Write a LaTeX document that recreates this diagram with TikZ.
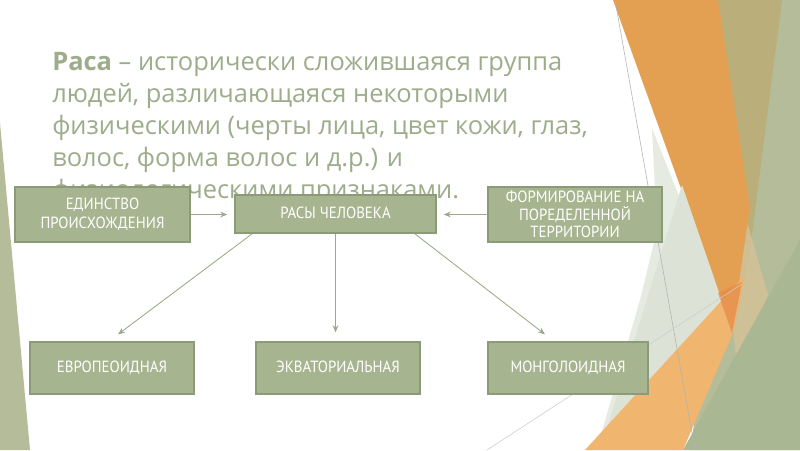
\documentclass[tikz,border=0pt]{standalone}
\usepackage{fontspec}
\setmainfont{Open Sans}
\newfontfamily\boxfont[FakeStretch=0.92]{PT Sans}
\usetikzlibrary{arrows.meta,positioning,calc}
\definecolor{sage}{HTML}{9DAC8A}
\definecolor{boxg}{HTML}{A6B58F}
\definecolor{boxd}{HTML}{8B9B77}
\definecolor{arrg}{HTML}{9AAA88}
\definecolor{orng}{HTML}{E3A052}
\definecolor{orngl}{HTML}{F0B56F}
\definecolor{tanb}{HTML}{BAAE7B}
\definecolor{beige}{HTML}{D5C397}
\definecolor{greenl}{HTML}{B4BC99}
\definecolor{greend}{HTML}{A9B792}
\definecolor{palegr}{HTML}{E6EBE2}
\definecolor{palegrd}{HTML}{DCE3D6}
\tikzset{
  racebox/.style={draw=boxd,line width=0.9pt,fill=boxg,inner sep=0pt,align=center,
    text=white,font=\boxfont\fontsize{11.5}{12.5}\selectfont},
  onebox/.style={racebox,text height=8.2pt,text depth=2.2pt},
  titleline/.style={anchor=base west,inner sep=0pt,text=sage,font=\fontsize{18.1}{20}\selectfont},
  arr/.style={draw=arrg,line width=0.6pt,-{Stealth[length=5pt,width=4pt]}}
}
\begin{document}
\begin{tikzpicture}[x=0.025cm,y=-0.025cm]
    \fill[white] (0,0) rectangle (800,450);
    \useasboundingbox (0,0) rectangle (800,450);
    % background shapes
    \fill[greenl] (760,0) -- (800,0) -- (800,450) -- (690,450) -- cycle;
    \fill[tanb] (716,0) -- (782,0) -- (750,250) -- (735,330) -- cycle;
    \fill[beige,opacity=0.8] (745,215) -- (768,295) -- (737,365) -- (733,330) -- cycle;
    \fill[orng] (613,0) -- (718,0) -- (750,207) -- (732,330) -- cycle;
    \fill[palegr] (652,128) -- (732,330) -- (598,445) -- (640,300) -- (657,230) -- cycle;
    \fill[palegrd] (682,185) -- (732,330) -- (605,435) -- cycle;
    \fill[orngl] (585,450) -- (745,275) -- (732,335) -- (683,450) -- cycle;
    \fill[greend] (683,450) -- (800,240) -- (800,450) -- cycle;
    \fill[orng!85!red,opacity=0.7] (718,293) -- (742,282) -- (732,333) -- cycle;
    \fill[greenl] (0,123) -- (30,450) -- (0,450) -- cycle;
    \draw[black!30,line width=0.4pt] (615,0) -- (695,450);
    \draw[black!20,line width=0.4pt] (487,450) -- (742,284);
    % title
    \node[titleline] (t1) at (52,70) {\textbf{Раса} – исторически сложившаяся группа};
    \node[titleline] (t2) at (52,102) {людей, различающаяся некоторыми};
    \node[titleline] (t3) at (52,134) {физическими (черты лица, цвет кожи, глаз,};
    \node[titleline] (t4) at (52,166) {волос, форма волос и д.р.) и};
    \node[titleline] (t5) at (52,198) {физиологическими признаками.};
    % boxes
    \node[racebox,minimum width=4.375cm,minimum height=1.375cm,
      font=\boxfont\fontsize{11.5}{13.5}\selectfont] (ed) at (102.5,214.5) {ЕДИНСТВО\\ПРОИСХОЖДЕНИЯ};
    \node[onebox,minimum width=5.025cm,minimum height=0.95cm] (rasy) at (335.5,214) {РАСЫ ЧЕЛОВЕКА};
    \node[racebox,minimum width=4.35cm,minimum height=1.375cm] (form) at (575,214.5) {ФОРМИРОВАНИЕ НА\\ПОРЕДЕЛЕННОЙ\\ТЕРРИТОРИИ};
    \node[onebox,minimum width=4.1cm,minimum height=1.3cm] (euro) at (112,368) {ЕВРОПЕОИДНАЯ};
    \node[onebox,minimum width=4.1cm,minimum height=1.3cm] (ekv) at (338,368) {ЭКВАТОРИАЛЬНАЯ};
    \node[onebox,minimum width=4.0cm,minimum height=1.3cm] (mong) at (568,368) {МОНГОЛОИДНАЯ};
    % arrows
    \draw[arr,shorten >=5pt] (ed.east) -- (ed.east -| rasy.west);
    \draw[arr,shorten >=5pt] (form.west) -- (form.west -| rasy.east);
    \draw[arr] ($(rasy.south west)+(18,0)$) -- ($(euro.north)+(6,-7)$);
    \draw[arr] (rasy.south) -- ($(rasy.south |- ekv.north)+(0,-9)$);
    \draw[arr] ($(rasy.south east)+(-22,0)$) -- ($(mong.north)+(-23,-7)$);
  \end{tikzpicture}
\end{document}
